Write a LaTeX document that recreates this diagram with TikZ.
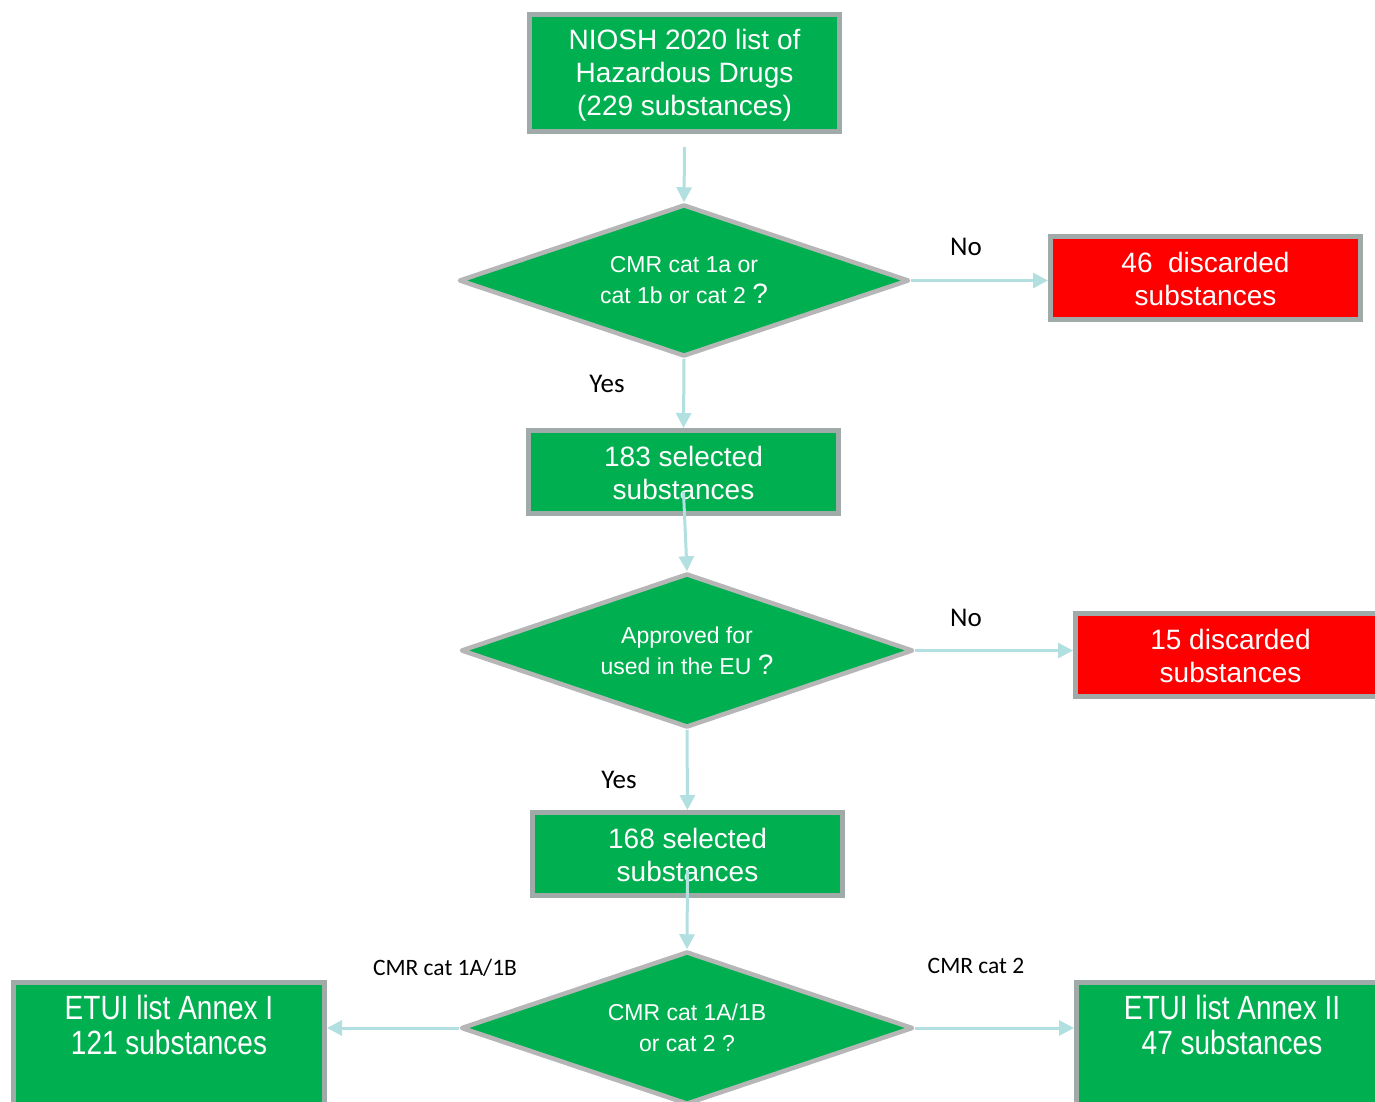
\documentclass[tikz,border=0pt]{standalone}
\usepackage{fontspec}
\setmainfont{Liberation Sans}
\newfontfamily\lblfont{Carlito}
\usetikzlibrary{shapes.geometric,arrows.meta}
\definecolor{boxgreen}{RGB}{0,176,80}
\definecolor{boxred}{RGB}{255,0,0}
\definecolor{boxborder}{RGB}{160,170,168}
\definecolor{diaborder}{RGB}{182,182,182}
\definecolor{arrcol}{RGB}{178,223,224}
\newcommand{\lowertxt}[2]{\raisebox{-#1}[\height][\depth]{\begin{tabular}{@{}c@{}}#2\end{tabular}}}
\tikzset{
  gbox/.style={rectangle, fill=boxgreen, draw=boxborder, line width=5pt, inner sep=0pt, text=white, align=center, font=\fontsize{28}{33}\selectfont},
  rbox/.style={gbox, fill=boxred},
  dia/.style={diamond, aspect=3, fill=boxgreen, draw=diaborder, line width=4.5pt, line join=round, inner sep=0pt, text=white, align=center, font=\fontsize{23}{31}\selectfont},
  arr/.style={draw=arrcol, line width=3pt, -{Triangle[length=15pt,width=15pt]}},
  lbl/.style={font=\lblfont\fontsize{27}{30}\selectfont, text=black, inner sep=0pt},
  clbl/.style={font=\lblfont\fontsize{23.5}{26}\selectfont, text=black, inner sep=0pt},
  btext/.style={text=white, align=center, font=\fontsize{28}{28.5}\selectfont, inner sep=0pt, yscale=1.2, transform shape}
}
\begin{document}
\begin{tikzpicture}[x=1pt,y=-1pt]
\useasboundingbox (0,0) rectangle (1375,1101);
\clip (0,0) rectangle (1375,1101);

\node[gbox, minimum width=310pt, minimum height=117pt] (b1) at (684.5,73) {\lowertxt{3pt}{NIOSH 2020 list of\\Hazardous Drugs\\(229 substances)}};
\node[dia, minimum width=450pt, minimum height=152pt] (d1) at (684,280.5) {CMR cat 1a or\\cat 1b or cat 2 {\fontsize{28}{31}\selectfont ?}};
\node[rbox, minimum width=310pt, minimum height=83pt] (r1) at (1205.5,278) {\lowertxt{4.5pt}{46\ \ discarded\\substances}};
\node[gbox, minimum width=310pt, minimum height=83pt] (b183) at (683.5,472) {\lowertxt{4.5pt}{183 selected\\substances}};
\node[dia, minimum width=452pt, minimum height=154pt] (d2) at (687,650.5) {Approved for\\used in the EU {\fontsize{28}{31}\selectfont ?}};
\node[rbox, minimum width=310pt, minimum height=83pt] (r2) at (1230.5,655) {\lowertxt{4.5pt}{15 discarded\\substances}};
\node[gbox, minimum width=310pt, minimum height=83pt] (b168) at (687.5,854) {\lowertxt{4.5pt}{168 selected\\substances}};
\node[dia, minimum width=452pt, minimum height=153pt] (d3) at (687,1028) {CMR cat 1A/1B\\or cat 2 ?};
\node[gbox, minimum width=311pt, minimum height=200pt, anchor=north] (a1) at (169,980) {};
\node[gbox, minimum width=311pt, minimum height=200pt, anchor=north] (a2) at (1232,980) {};
\node[btext] (a1t) at (169,1025) {ETUI list Annex I\\121 substances};
\node[btext] (a2t) at (1232,1025) {ETUI list Annex II\\47 substances};

\draw[arr] ([yshift=-13pt]b1.south) -- (d1.north);
\draw[arr] (d1.east) -- (d1.east -| r1.west);
\draw[arr] (d1.south) -- (b183.north);
\draw[arr] ([yshift=-20pt]b183.center) -- (d2.north);
\draw[arr] (d2.east) -- (d2.east -| r2.west);
\draw[arr] (d2.south) -- (b168.north);
\draw[arr] ([yshift=-16pt]b168.center) -- (d3.north);
\draw[arr] (d3.west) -- (d3.west -| a1.east);
\draw[arr] (d3.east) -- (d3.east -| a2.west);

\node[lbl] (no1) at (966,247) {No};
\node[lbl] (no2) at (966,618) {No};
\node[lbl] (yes1) at (607,384) {Yes};
\node[lbl] (yes2) at (619,780) {Yes};
\node[clbl] (c1) at (445,968) {CMR cat 1A/1B};
\node[clbl] (c2) at (976,966) {CMR cat 2};
\end{tikzpicture}
\end{document}
